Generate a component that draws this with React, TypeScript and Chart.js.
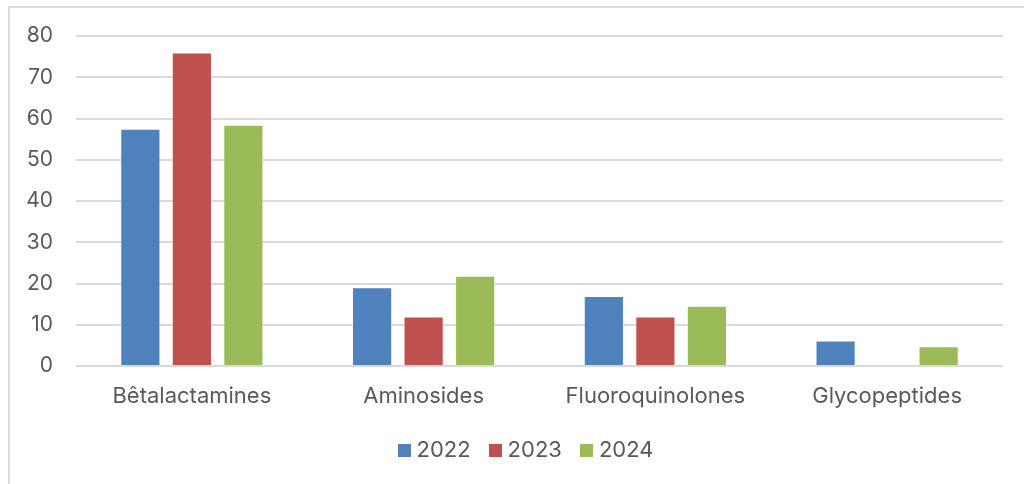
import React, { useEffect, useRef } from "react";
import { Chart, registerables } from "chart.js";

Chart.register(...registerables);

const categories = ["Bêtalactamines", "Aminosides", "Fluoroquinolones", "Glycopeptides"];
const years = ["2022", "2023", "2024"];
const values2022 = [57.5, 19.1, 17, 6.2];
const values2023 = [76, 12, 12, null];
const values2024 = [58.5, 21.9, 14.6, 4.8];
const yTicks = [0, 10, 20, 30, 40, 50, 60, 70, 80];
const colors = ["#4f81bd", "#c0504d", "#9bbb59"];

const TEXT = "#595959";
const FONT = "Inter, 'Open Sans', sans-serif";

// Small filled square used as the legend marker
function makeSwatch(color: string): HTMLCanvasElement {
  const c = document.createElement("canvas");
  c.width = 13;
  c.height = 13;
  const ctx = c.getContext("2d");
  if (ctx) {
    ctx.fillStyle = color;
    ctx.fillRect(0, 0, 13, 13);
  }
  return c;
}

// Moves the legend row slightly to the right of the plot's centre
const legendShift = {
  id: "legendShift",
  afterLayout(chart: any) {
    const lg = chart.legend;
    if (lg) {
      lg.left += 27;
      lg.right += 27;
    }
  },
};

export default function App() {
  const ref = useRef<HTMLCanvasElement | null>(null);

  useEffect(() => {
    const canvas = ref.current;
    if (!canvas) return;
    const series = [values2022, values2023, values2024];
    const swatches = colors.map(makeSwatch);
    const chart = new Chart(canvas, {
      type: "bar",
      data: {
        labels: categories,
        datasets: years.map((y, i) => ({
          label: y,
          data: series[i],
          backgroundColor: colors[i],
          borderColor: "rgba(255,255,255,0.35)",
          borderWidth: 1,
          categoryPercentage: 0.667,
          barPercentage: 0.78,
          pointStyle: swatches[i],
        })),
      },
      options: {
        responsive: false,
        animation: false,
        devicePixelRatio: 1,
        layout: { padding: { top: 36, right: 21, bottom: 13, left: 0 } },
        plugins: {
          legend: {
            position: "bottom",
            labels: {
              usePointStyle: true,
              pointStyleWidth: 2,
              boxHeight: 13,
              padding: 24,
              color: TEXT,
              font: { family: FONT, size: 22 },
            },
          },
          tooltip: { enabled: false },
        },
        scales: {
          x: {
            grid: { display: false, drawTicks: false },
            border: { display: false },
            ticks: {
              color: TEXT,
              padding: 17,
              font: { family: FONT, size: 22 },
            },
            afterFit: (scale: any) => {
              scale.height = 49;
            },
          },
          y: {
            min: 0,
            max: 80,
            afterBuildTicks: (scale: any) => {
              scale.ticks = yTicks.map((v) => ({ value: v }));
            },
            grid: { color: "#d9d9d9", lineWidth: 2, drawTicks: false },
            border: { display: false },
            ticks: {
              color: TEXT,
              padding: 23,
              font: { family: FONT, size: 21 },
            },
            afterFit: (scale: any) => {
              scale.width = 76;
            },
          },
        },
      },
      plugins: [legendShift],
    });
    return () => chart.destroy();
  }, []);

  return (
    <div
      style={{
        position: "absolute",
        left: 0,
        top: 0,
        width: 1024,
        height: 484,
        overflow: "hidden",
        background: "#fff",
      }}
    >
      <div
        style={{
          position: "absolute",
          left: 8,
          top: 6,
          width: 1100,
          height: 600,
          border: "2px solid #dedede",
          boxSizing: "border-box",
        }}
      />
      <canvas
        ref={ref}
        width={1024}
        height={484}
        style={{ position: "absolute", left: 0, top: 0, width: 1024, height: 484 }}
      />
    </div>
  );
}
